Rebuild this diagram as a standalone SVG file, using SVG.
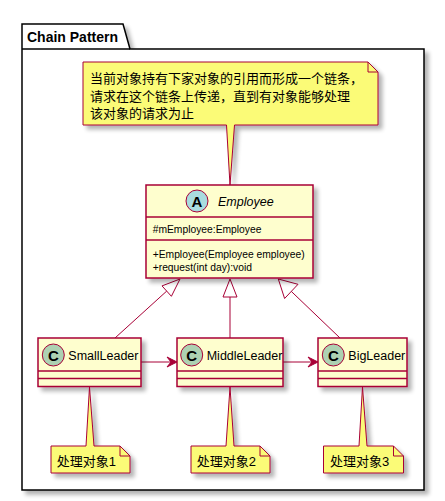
<svg xmlns="http://www.w3.org/2000/svg" width="445" height="501" viewBox="0 0 445 501">
<style>
.cls{fill:#FEFECE;stroke:#A80036;stroke-width:1.5}
.sep{stroke:#A80036;stroke-width:1.5}
.note{fill:#FBFB77;stroke:#A80036;stroke-width:1}
.fold{fill:none;stroke:#A80036;stroke-width:1}
.edge{fill:none;stroke:#A80036;stroke-width:1}
.tri{fill:none;stroke:#A80036;stroke-width:1}
.head{fill:#A80036;stroke:#A80036;stroke-width:1}
.cname{font-family:"Liberation Sans",Arial,sans-serif;font-size:12.5px;fill:#000}
.mem{font-family:"Liberation Sans",Arial,sans-serif;font-size:10.3px;fill:#000}
.ntxt{font-family:"Liberation Sans","Noto Sans CJK SC",sans-serif;font-size:13px;fill:#000}
.spot{stroke:#A80036;stroke-width:1}
.letter{font-family:"Liberation Sans",Arial,sans-serif;font-size:15px;font-weight:bold;fill:#000}
</style>
<defs>
<filter id="sh" x="-10%" y="-10%" width="130%" height="130%">
<feGaussianBlur in="SourceAlpha" stdDeviation="2"/>
<feOffset dx="4" dy="4" result="o"/>
<feComponentTransfer in="o" result="s"><feFuncA type="linear" slope="0.3"/></feComponentTransfer>
<feMerge><feMergeNode in="s"/><feMergeNode in="SourceGraphic"/></feMerge>
</filter>
</defs>
<rect x="0" y="0" width="445" height="501" fill="#FFFFFF"/>
<g id="package">
<path d="M22,24 L123,24 L130,49 L424,49 L424,490 L22,490 Z" fill="#FFFFFF" stroke="#000000" stroke-width="1.5" filter="url(#sh)"/>
<line x1="22" y1="49" x2="130" y2="49" stroke="#000000" stroke-width="1.5"/>
<text x="27" y="42" font-family="Liberation Sans,Arial,sans-serif" font-size="14" font-weight="bold">Chain Pattern</text>
</g>
<g id="note-top">
<path class="note" filter="url(#sh)" d="M83,62 L368,62 L378,72 L378,125 L234.5,125 L230,185 L226.5,125 L83,125 Z"/>
<path class="fold" d="M368,62 L368,72 L378,72"/>
<text class="ntxt" x="90" y="83">当前对象持有下家对象的引用而形成一个链条，</text>
<text class="ntxt" x="90" y="100.5">请求在这个链条上传递，直到有对象能够处理</text>
<text class="ntxt" x="90" y="117.5">该对象的请求为止</text>
</g>
<g id="connectors">
<line class="edge" x1="115" y1="338" x2="166.7" y2="291.1"/>
<polygon class="tri" points="180,279 171.4,296.3 162,285.9"/>
<line class="edge" x1="230" y1="338" x2="230" y2="297"/>
<polygon class="tri" points="230,279 237,297 223,297"/>
<line class="edge" x1="340" y1="338" x2="291.3" y2="291.4"/>
<polygon class="tri" points="278.3,279 298,284.3 284.6,298.5"/>
<line class="edge" x1="141" y1="362" x2="172" y2="362"/>
<polygon class="head" points="177,362 167,357 171,362 167,367"/>
<line class="edge" x1="283" y1="362" x2="313" y2="362"/>
<polygon class="head" points="318,362 308,357 312,362 308,367"/>
</g>
<g id="Employee">
<rect class="cls" x="146" y="185" width="167" height="93" filter="url(#sh)"/>
<circle class="spot" cx="197" cy="201" r="11" fill="#A9DCDF"/>
<text class="letter" x="197" y="206.5" text-anchor="middle">A</text>
<text class="cname" x="218" y="206" font-style="italic">Employee</text>
<line class="sep" x1="146" y1="217" x2="313" y2="217"/>
<text class="mem" x="152.7" y="233">#mEmployee:Employee</text>
<line class="sep" x1="146" y1="240" x2="313" y2="240"/>
<text class="mem" x="152.7" y="258">+Employee(Employee employee)</text>
<text class="mem" x="152.7" y="271">+request(int day):void</text>
</g>
<g id="SmallLeader">
<rect class="cls" x="38" y="338" width="103" height="48.5" filter="url(#sh)"/>
<circle class="spot" cx="53.3" cy="355" r="11" fill="#ADD1B2"/>
<text class="letter" x="53.3" y="360.5" text-anchor="middle">C</text>
<text class="cname" x="68.3" y="359.5">SmallLeader</text>
<line class="sep" x1="38" y1="371" x2="141" y2="371"/>
<line class="sep" x1="38" y1="378.5" x2="141" y2="378.5"/>
</g>
<g id="MiddleLeader">
<rect class="cls" x="177" y="338" width="106" height="48.5" filter="url(#sh)"/>
<circle class="spot" cx="191.7" cy="355" r="11" fill="#ADD1B2"/>
<text class="letter" x="191.7" y="360.5" text-anchor="middle">C</text>
<text class="cname" x="206.7" y="359.5">MiddleLeader</text>
<line class="sep" x1="177" y1="371" x2="283" y2="371"/>
<line class="sep" x1="177" y1="378.5" x2="283" y2="378.5"/>
</g>
<g id="BigLeader">
<rect class="cls" x="318" y="338" width="89" height="48.5" filter="url(#sh)"/>
<circle class="spot" cx="333.3" cy="355" r="11" fill="#ADD1B2"/>
<text class="letter" x="333.3" y="360.5" text-anchor="middle">C</text>
<text class="cname" x="348.3" y="359.5">BigLeader</text>
<line class="sep" x1="318" y1="371" x2="407" y2="371"/>
<line class="sep" x1="318" y1="378.5" x2="407" y2="378.5"/>
</g>
<g id="note1">
<path class="note" filter="url(#sh)" d="M51,446 L86,446 L89.5,387 L94,446 L120,446 L130,456 L130,473 L51,473 Z"/>
<path class="fold" d="M120,446 L120,456 L130,456"/>
<text class="ntxt" x="56.7" y="466">处理对象1</text>
</g>
<g id="note2">
<path class="note" filter="url(#sh)" d="M191,446 L226,446 L230,387 L234,446 L260,446 L270,456 L270,473 L191,473 Z"/>
<path class="fold" d="M260,446 L260,456 L270,456"/>
<text class="ntxt" x="196.7" y="466">处理对象2</text>
</g>
<g id="note3">
<path class="note" filter="url(#sh)" d="M323.5,446 L359,446 L362.5,387 L367,446 L393.5,446 L403.5,456 L403.5,473 L323.5,473 Z"/>
<path class="fold" d="M393.5,446 L393.5,456 L403.5,456"/>
<text class="ntxt" x="330" y="466">处理对象3</text>
</g>
</svg>
